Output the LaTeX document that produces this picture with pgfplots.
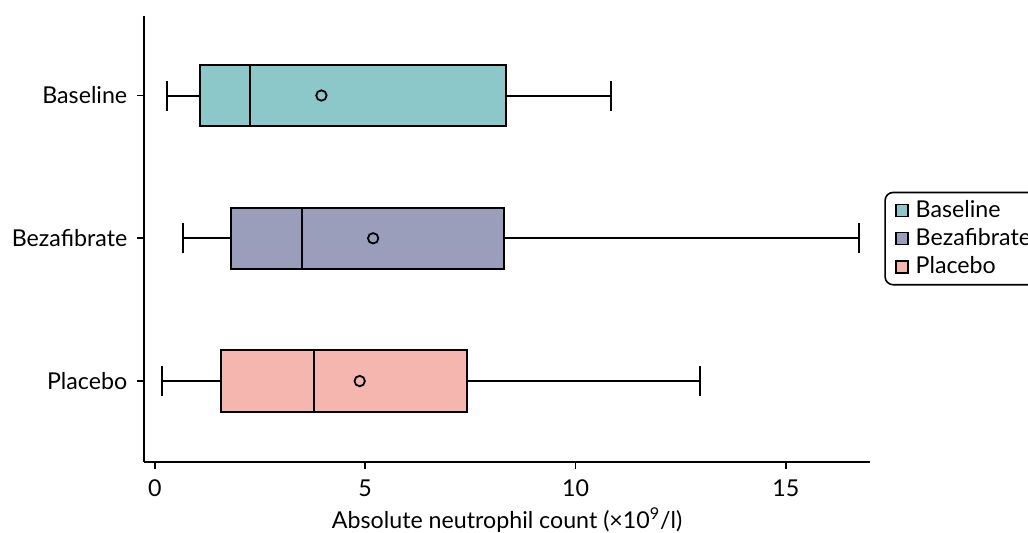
\documentclass[border=0pt]{standalone}
\usepackage{fontspec}
\setmainfont{Lato}
\usepackage{pgfplots}
\pgfplotsset{compat=1.18}
\usepgfplotslibrary{statistics}

\definecolor{cBase}{RGB}{140,199,202}
\definecolor{cBeza}{RGB}{154,158,187}
\definecolor{cPlac}{RGB}{245,182,176}

\pgfplotsset{
  boxleg/.style={legend image code/.code={
      \path (0pt,0pt) (10.5pt,0pt);
      \draw[sharp corners,fill=#1,draw=black,line width=0.8pt] (3pt,-3pt) rectangle (9pt,3pt);}},
}

\begin{document}
\begin{tikzpicture}[font=\fontsize{11.6pt}{14pt}\selectfont]
\begin{axis}[
  at={(0pt,0pt)}, anchor=south west,
  scale only axis,
  width=362.85pt, height=223.15pt,
  xmin=-0.25, xmax=17,
  ymin=-0.567, ymax=2.559,
  axis x line=bottom, axis y line=left,
  axis line style={-, line width=0.9pt},
  every outer x axis line/.append style={-},
  every outer y axis line/.append style={-},
  tick align=outside,
  major tick length=3.5pt,
  tick style={black, line width=0.9pt},
  xtick={0,5,10,15},
  ytick={0,1,2},
  yticklabels={Placebo,Bezafibrate,Baseline},
  yticklabel style={xshift=-1.5pt},
  xticklabel style={yshift=-2pt},
  /pgf/number format/assume math mode=true,
  xlabel={Absolute neutrophil count (×10\textsuperscript{9}/l)},
  xlabel style={yshift=1.5pt},
  legend cell align=left,
  legend style={at={(1.0197,0.6057)}, anchor=north west,
    draw=black, line width=0.8pt, rounded corners=4pt,
    inner sep=2pt, row sep=0pt,
    font=\fontsize{11.6pt}{14pt}\selectfont},
  boxplot/draw direction=x,
  boxplot/every box/.style={draw=black, line width=1pt},
  boxplot/every median/.style={draw=black, line width=1pt},
  boxplot/every whisker/.style={draw=black, line width=1pt},
]
% Baseline
\addplot+[boxplot prepared={
    lower whisker=0.28, lower quartile=1.07, median=2.27,
    upper quartile=8.35, upper whisker=10.85,
    draw position=2, box extend=0.43, whisker extend=0.21},
  fill=cBase, draw=black, mark=none, boxleg=cBase] coordinates {};
\addlegendentry{Baseline}
% Bezafibrate
\addplot+[boxplot prepared={
    lower whisker=0.67, lower quartile=1.81, median=3.51,
    upper quartile=8.31, upper whisker=16.73,
    draw position=1, box extend=0.43, whisker extend=0.21},
  fill=cBeza, draw=black, mark=none, boxleg=cBeza] coordinates {};
\addlegendentry{Bezafibrate}
% Placebo
\addplot+[boxplot prepared={
    lower whisker=0.16, lower quartile=1.58, median=3.78,
    upper quartile=7.42, upper whisker=12.95,
    draw position=0, box extend=0.43, whisker extend=0.21},
  fill=cPlac, draw=black, mark=none, boxleg=cPlac] coordinates {};
\addlegendentry{Placebo}
% means
\addplot[only marks, mark=o, mark size=2.6pt, line width=0.9pt, black, forget plot]
  coordinates {(3.96,2) (5.19,1) (4.87,0)};
\end{axis}
\pgfresetboundingbox
\path (-72.15pt,-35pt) rectangle (441.85pt,231pt);
\end{tikzpicture}
\end{document}
